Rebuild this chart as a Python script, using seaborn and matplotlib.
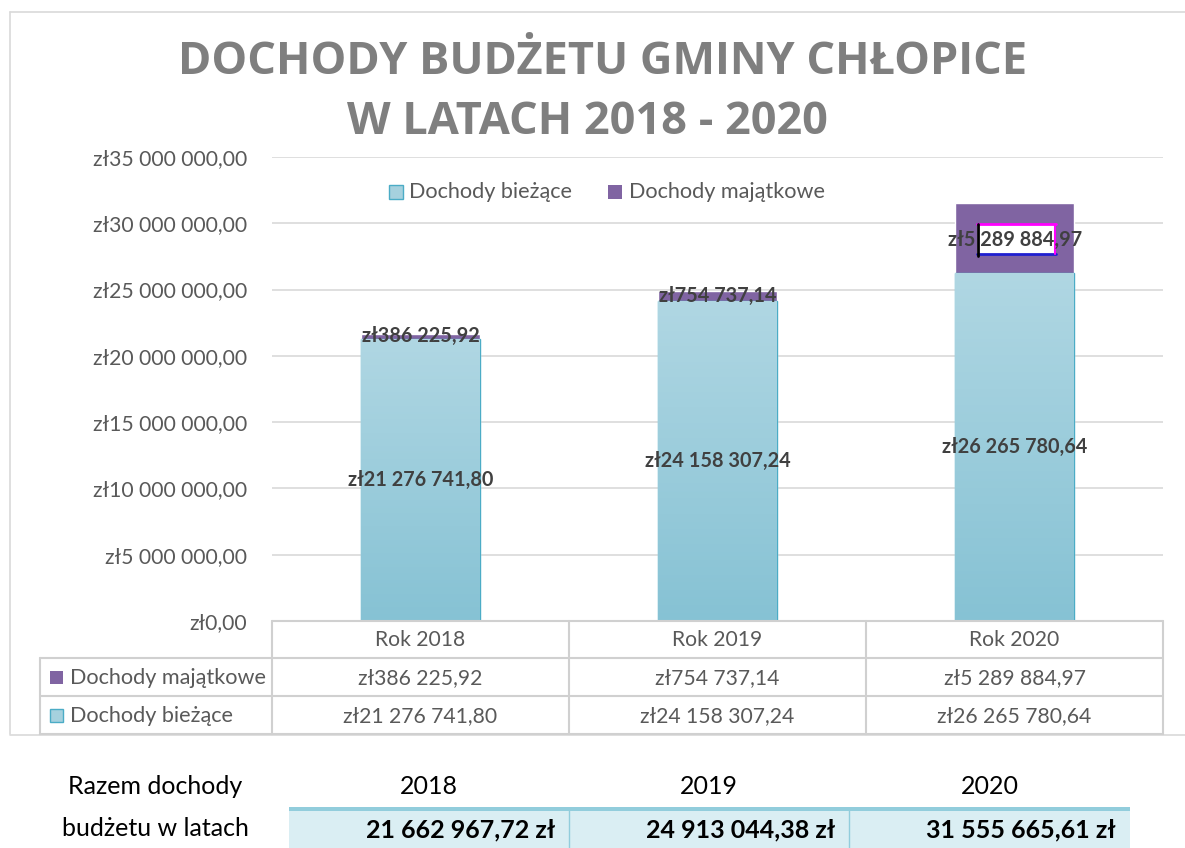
import numpy as np
import pandas as pd
import matplotlib
matplotlib.use("Agg")
import matplotlib.pyplot as plt
from matplotlib.patches import Rectangle
import seaborn as sns

# dane
years = ["2018", "2019", "2020"]
categories = ["Rok 2018", "Rok 2019", "Rok 2020"]
biezace = [21276741.80, 24158307.24, 26265780.64]
majatkowe = [386225.92, 754737.14, 5289884.97]
razem = [21662967.72, 24913044.38, 31555665.61]
yticks = [0, 5e6, 10e6, 15e6, 20e6, 25e6, 30e6, 35e6]

sns.set_style("white")
plt.rcParams['font.family'] = ['Lato', 'DejaVu Sans']

W, H = 1185, 848
GRAY = "#595959"
DARK = "#404040"
PURPLE = "#8064a2"
BLUE_EDGE = "#4bacc6"
GRID = "#d9d9d9"


def zl(v):
    s = f"{v:,.2f}".replace(",", " ").replace(".", ",")
    return "zł" + s


fig = plt.figure(figsize=(W / 100, H / 100), dpi=100)

# wykres
L, R, T, B = 272, 1163, 157, 621
ax = fig.add_axes([L / W, 1 - B / H, (R - L) / W, (B - T) / H])
df = pd.DataFrame({"kat": categories, "biezace": biezace,
                   "razem": np.array(biezace) + np.array(majatkowe)})

sns.barplot(data=df, x="kat", y="razem", color=PURPLE, saturation=1,
            width=0.4, ax=ax, zorder=3)
sns.barplot(data=df, x="kat", y="biezace", color="#a6d1de", saturation=1,
            width=0.4, ax=ax, zorder=4, edgecolor=BLUE_EDGE, linewidth=1)

ax.set_yticks(yticks)
ax.set_yticklabels([zl(v) for v in yticks], color=GRAY, fontsize=15.2)
ax.tick_params(axis="y", length=0, pad=18)
ax.set_xticks([])
ax.set_xlabel("")
ax.set_ylabel("")
ax.grid(axis="y", color=GRID, linewidth=1.2, zorder=0)
ax.set_axisbelow(True)
for s in ax.spines.values():
    s.set_visible(False)
ax.patch.set_alpha(0)

# gradient na słupkach bieżących
grad = np.linspace(0, 1, 256).reshape(-1, 1)
cmap = matplotlib.colors.LinearSegmentedColormap.from_list("g", ["#86c2d4", "#b0d7e3"])
for p in ax.patches[len(categories):]:
    x0, w, h = p.get_x(), p.get_width(), p.get_height()
    im = ax.imshow(grad, extent=[x0, x0 + w, 0, h], origin="lower", cmap=cmap,
                   aspect="auto", zorder=4.5)
    im.set_clip_path(p)
ax.set_xlim(-0.5, 2.5)
ax.set_ylim(0, 35e6)

# etykiety danych
for i in range(len(categories)):
    ax.text(i, biezace[i] / 2, zl(biezace[i]), ha="center", va="center",
            fontsize=14.3, fontweight="bold", color=DARK, zorder=6)
    if i < 2:
        ax.text(i, biezace[i] + majatkowe[i] / 2, zl(majatkowe[i]), ha="center",
                va="center", fontsize=14.3, fontweight="bold", color=DARK, zorder=7)

# warstwa w pikselach
ov = fig.add_axes([0, 0, 1, 1], zorder=10)
ov.set_xlim(0, W)
ov.set_ylim(H, 0)
ov.axis("off")

# zaznaczenie etykiety 2020 (ramka z Excela)
ov.add_patch(Rectangle((977, 224), 79, 30, facecolor="white", edgecolor="none"))
ov.plot([977, 1056], [224, 224], color="#ff00ff", lw=2)
ov.plot([977, 1056], [254, 254], color="#1f1fd0", lw=2)
ov.plot([978, 978], [224, 256], color="black", lw=2)
ov.plot([1055, 1055], [224, 254], color="#ff00ff", lw=1.5)
ov.text(1015, 240, zl(majatkowe[2]), ha="center", va="center",
        fontsize=14.3, fontweight="bold", color=DARK)

# legenda
ov.add_patch(Rectangle((389, 185), 14, 14, facecolor="#a6d1de", edgecolor=BLUE_EDGE, lw=1))
ov.text(409, 192, "Dochody bieżące", va="center", ha="left", fontsize=15.6, color=GRAY)
ov.add_patch(Rectangle((608, 185), 14, 14, facecolor=PURPLE, edgecolor="none"))
ov.text(629, 192, "Dochody majątkowe", va="center", ha="left", fontsize=15.6, color=GRAY)

# tytuł
ov.text(603, 62, "DOCHODY BUDŻETU GMINY CHŁOPICE", ha="center", va="center",
        fontsize=32.5, fontweight="bold", color="#7f7f7f", family=["Open Sans", "DejaVu Sans"])
ov.text(587, 122, "W LATACH 2018 - 2020", ha="center", va="center",
        fontsize=32.5, fontweight="bold", color="#7f7f7f", family=["Open Sans", "DejaVu Sans"])

# ramka wykresu
ov.plot([10, 10], [12, 734], color=GRID, lw=1.2)
ov.plot([10, W], [12, 12], color=GRID, lw=1.2)
ov.plot([10, W], [735, 735], color=GRID, lw=1.2)

# tabela danych
col_w = (R - L) / 3
rows = [621, 658, 696, 734]
tl = "#d0d0d0"
ov.plot([L, R], [rows[0], rows[0]], color=tl, lw=1.5)
for y in rows[1:]:
    ov.plot([40, R], [y, y], color=tl, lw=1.5)
for k in range(4):
    ov.plot([L + k * col_w] * 2, [rows[0], rows[3]], color=tl, lw=1.5)
ov.plot([40, 40], [rows[1], rows[3]], color=tl, lw=1.5)
for k in range(3):
    cx = L + (k + 0.5) * col_w
    ov.text(cx, 640, categories[k], ha="center", va="center", fontsize=15.2, color=GRAY)
    ov.text(cx, 678, zl(majatkowe[k]), ha="center", va="center", fontsize=15.2, color=GRAY)
    ov.text(cx, 716, zl(biezace[k]), ha="center", va="center", fontsize=15.2, color=GRAY)
ov.add_patch(Rectangle((50, 671), 13, 13, facecolor=PURPLE, edgecolor="none"))
ov.text(70, 678, "Dochody majątkowe", va="center", ha="left", fontsize=15.6, color=GRAY)
ov.add_patch(Rectangle((50, 709), 13, 13, facecolor="#a6d1de", edgecolor=BLUE_EDGE, lw=1))
ov.text(70, 716, "Dochody bieżące", va="center", ha="left", fontsize=15.6, color=GRAY)

# podsumowanie
ov.text(155, 787, "Razem dochody", ha="center", va="center", fontsize=18, color="black")
ov.text(155, 829, "budżetu w latach", ha="center", va="center", fontsize=18, color="black")
xs = [289, 569, 849, 1130]
for k in range(3):
    ov.add_patch(Rectangle((xs[k], 808), xs[k + 1] - xs[k], 40, facecolor="#daeef3", edgecolor="none"))
    ov.text((xs[k] + xs[k + 1]) / 2, 786, years[k], ha="center", va="center", fontsize=18, color="black")
    ov.text(xs[k + 1] - 14, 830, f"{razem[k]:,.2f}".replace(",", " ").replace(".", ",") + " zł",
            ha="right", va="center", fontsize=18, fontweight="bold", color="black")
for x in xs[1:-1]:
    ov.plot([x, x], [808, 848], color="#92cddc", lw=1)
ov.add_patch(Rectangle((289, 807), 841, 4, facecolor="#92cddc", edgecolor="none"))

fig.savefig("out.png", dpi=100)
